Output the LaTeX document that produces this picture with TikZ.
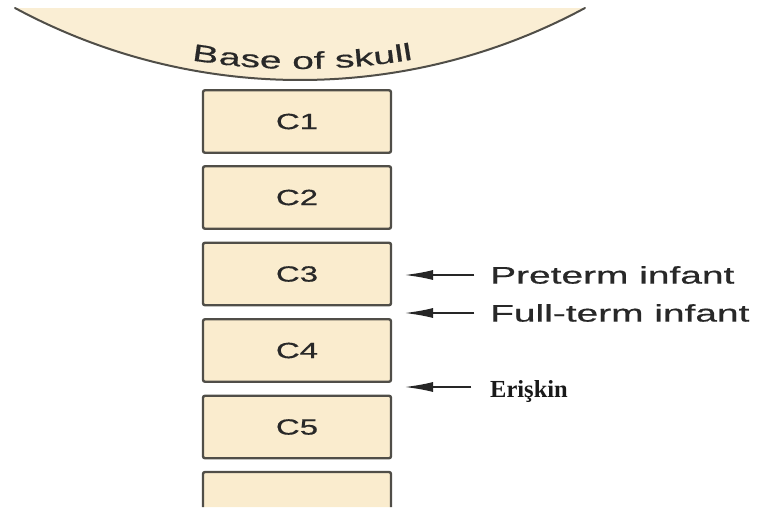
\documentclass[tikz,border=0pt]{standalone}
\usepackage{fontspec}
\setsansfont{Liberation Sans}[FakeBold=0.5]
\newfontfamily\labelserif{Liberation Serif}
\usepackage{graphicx}
\usetikzlibrary{arrows.meta}
\definecolor{bone}{RGB}{250,236,206}
\definecolor{skullfill}{RGB}{250,238,212}
\definecolor{edge}{RGB}{80,78,72}
\definecolor{ink}{RGB}{40,40,40}
% horizontally widened lettering
\newcommand{\wide}[1]{\scalebox{1.62}[1]{#1}}
\newcommand{\boxwide}[1]{\scalebox{1.5}[1]{#1}}

\begin{document}
\begin{tikzpicture}[x=1pt,y=1pt,
  vert/.style={draw=edge, fill=bone, line width=2.4pt, rounded corners=2pt,
    minimum width=188pt, minimum height=62.5pt, inner sep=0pt,
    font=\sffamily\fontsize{22}{22}\selectfont, text=ink},
  lbl/.style={anchor=west, inner sep=0pt,
    font=\sffamily\fontsize{24}{24}\selectfont, text=ink},
  skulltext/.style={inner sep=0pt, anchor=base,
    font=\sffamily\fontsize{24}{24}\selectfont, text=ink},
  pointer/.style={-{Latex[length=30pt,width=10pt]}, line width=2.6pt, draw=black!85, fill=black!85}]

\useasboundingbox (0,0) rectangle (763,-514);

% base of skull
\fill[skullfill] (15,-8) arc[start angle=241.64, end angle=298.36, radius=600pt] -- cycle;
\draw[edge, line width=2pt, line cap=round] (15,-8) arc[start angle=241.64, end angle=298.36, radius=600pt];

% curved caption along the skull base
\foreach \gch/\xc [count=\i] in {B/204.5,a/229.2,s/249.9,e/270.4,o/303.1,f/319.3,s/345.2,k/364.6,u/385.1,l/400.2,l/408.8} {
  \pgfmathsetmacro\ang{asin((\xc-300)/680)}
  \pgfmathsetmacro\yy{611-680*cos(\ang)}
  \node[skulltext, rotate=\ang] (sk\i) at (\xc,\yy) {\wide{\gch}};
}

% cervical vertebrae
\node[vert] (c1) at (297,-121.5) {\boxwide{C1}};
\node[vert] (c2) at (297,-197.5) {\boxwide{C2}};
\node[vert] (c3) at (297,-274)   {\boxwide{C3}};
\node[vert] (c4) at (297,-350.5) {\boxwide{C4}};
\node[vert] (c5) at (297,-427)   {\boxwide{C5}};
\draw[draw=edge, fill=bone, line width=2.4pt, rounded corners=2pt]
  (203,-507) -- (203,-472) -- (391,-472) -- (391,-507);

% level markers
\coordinate (preTail)  at (474,-275);
\coordinate (preTip)   at (403,-275);
\coordinate (fullTail) at (474,-313);
\coordinate (fullTip)  at (403,-313);
\coordinate (adTail)   at (471,-387);
\coordinate (adTip)    at (403,-387);

\node[lbl] (pre)  at (490,-275) {\wide{Preterm infant}};
\node[lbl] (full) at (490,-313) {\wide{Full-term infant}};
\node[lbl, anchor=base west, font=\labelserif\bfseries\fontsize{24.5}{24.5}\selectfont, text=black!90] (adult) at (490,-397) {Erişkin};

\draw[pointer] (preTail) -- (preTip);
\draw[pointer] (fullTail) -- (fullTip);
\draw[pointer] (adTail) -- (adTip);
\end{tikzpicture}
\end{document}
